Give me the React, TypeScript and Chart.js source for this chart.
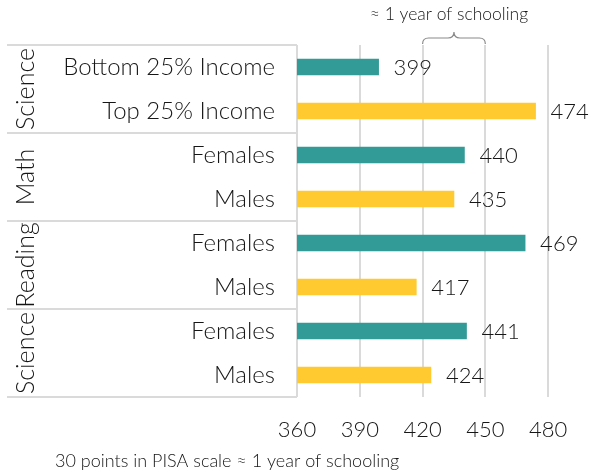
import React, { useEffect, useRef } from 'react';
import { Chart, registerables } from 'chart.js';

Chart.register(...registerables);

const categories = ['Bottom 25% Income', 'Top 25% Income', 'Females', 'Males', 'Females', 'Males', 'Females', 'Males'];
const scores = [399, 474, 440, 435, 469, 417, 441, 424];
const groupNames = ['Science', 'Math', 'Reading', 'Science'];
const groupSizes = [2, 2, 2, 2];
const xTickValues = [360, 390, 420, 450, 480];
const xMin = 360;
const xMax = 500;
const braceFrom = 420;
const braceTo = 450;
const annotationText = '≈ 1 year of schooling';
const footnoteText = '30 points in PISA scale ≈ 1 year of schooling';

const TEAL = '#339b97';
const YELLOW = '#ffca30';
const TEXT = '#161616';
const LINE = '#dadada';
const FONT = 'Lato, "Open Sans", sans-serif';

const barColors = scores.map((_, i) => (i % 2 === 0 ? TEAL : YELLOW));

const decorPlugin = {
  id: 'decor',
  beforeDatasetsDraw(chart: any) {
    const { ctx, chartArea: a, scales } = chart;
    const y = scales.y;
    const band = y.getPixelForValue(1) - y.getPixelForValue(0);
    ctx.save();
    ctx.strokeStyle = LINE;
    ctx.lineWidth = 2;
    const bounds: number[] = [y.getPixelForValue(0) - band / 2];
    let idx = 0;
    groupSizes.forEach((s) => {
      idx += s;
      bounds.push(y.getPixelForValue(idx - 1) + band / 2);
    });
    bounds.forEach((b) => {
      ctx.beginPath();
      ctx.moveTo(7, b);
      ctx.lineTo(a.left, b);
      ctx.stroke();
    });
    ctx.beginPath();
    ctx.moveTo(a.left, a.top);
    ctx.lineTo(a.left, a.bottom);
    ctx.stroke();
    ctx.restore();
  },
  afterDatasetsDraw(chart: any) {
    const { ctx, chartArea: a, scales } = chart;
    const x = scales.x;
    const y = scales.y;
    const band = y.getPixelForValue(1) - y.getPixelForValue(0);
    ctx.save();
    ctx.fillStyle = TEXT;
    // value labels
    ctx.font = `300 22px ${FONT}`;
    ctx.textAlign = 'left';
    ctx.textBaseline = 'middle';
    scores.forEach((v, i) => {
      ctx.fillText(String(v), x.getPixelForValue(v) + 15, y.getPixelForValue(i) + 1);
    });
    // group labels
    ctx.font = `300 25px ${FONT}`;
    ctx.textAlign = 'center';
    let idx = 0;
    groupNames.forEach((g, gi) => {
      const start = y.getPixelForValue(idx) - band / 2;
      idx += groupSizes[gi];
      const end = y.getPixelForValue(idx - 1) + band / 2;
      ctx.save();
      ctx.translate(26, (start + end) / 2);
      ctx.rotate(-Math.PI / 2);
      ctx.fillText(g, 0, 0);
      ctx.restore();
    });
    // brace
    const x1 = x.getPixelForValue(braceFrom);
    const x2 = x.getPixelForValue(braceTo);
    const mid = (x1 + x2) / 2;
    ctx.strokeStyle = '#8a8a8a';
    ctx.lineWidth = 1.2;
    ctx.beginPath();
    ctx.moveTo(x1, a.top - 1);
    ctx.quadraticCurveTo(x1, 38, x1 + 6, 38);
    ctx.lineTo(mid - 6, 38);
    ctx.quadraticCurveTo(mid, 38, mid, 32);
    ctx.quadraticCurveTo(mid, 38, mid + 6, 38);
    ctx.lineTo(x2 - 6, 38);
    ctx.quadraticCurveTo(x2, 38, x2, a.top - 1);
    ctx.stroke();
    // annotation
    ctx.font = `300 17.5px ${FONT}`;
    ctx.textAlign = 'center';
    ctx.fillText(annotationText, mid - 5, 14);
    // footnote
    ctx.font = `300 18px ${FONT}`;
    ctx.textAlign = 'left';
    ctx.fillText(footnoteText, 55, 461);
    ctx.restore();
  },
};

export default function App() {
  const ref = useRef<HTMLCanvasElement | null>(null);
  useEffect(() => {
    if (!ref.current) return;
    const chart = new Chart(ref.current, {
      type: 'bar',
      data: {
        labels: categories,
        datasets: [
          {
            data: scores,
            backgroundColor: barColors,
            borderWidth: 0,
            barThickness: 16,
          },
        ],
      },
      options: {
        indexAxis: 'y',
        animation: false,
        responsive: true,
        maintainAspectRatio: false,
        layout: { padding: { top: 45, right: 13, left: 0, bottom: 0 } },
        plugins: {
          legend: { display: false },
          tooltip: { enabled: false },
        },
        scales: {
          x: {
            min: xMin,
            max: xMax,
            afterBuildTicks: (scale: any) => {
              scale.ticks = xTickValues.map((v) => ({ value: v }));
            },
            afterFit: (scale: any) => {
              scale.height = 78;
            },
            grid: { color: LINE, lineWidth: 2, drawTicks: false },
            border: { display: false },
            ticks: {
              color: TEXT,
              font: { family: FONT, size: 22, weight: '300' },
              padding: 20,
              autoSkip: false,
              maxRotation: 0,
            },
          },
          y: {
            afterFit: (scale: any) => {
              scale.width = 297;
            },
            grid: { display: false, drawTicks: false },
            border: { display: false },
            ticks: {
              color: TEXT,
              font: { family: FONT, size: 24, weight: '300' },
              padding: 22,
              autoSkip: false,
            },
          },
        },
      },
      plugins: [decorPlugin],
    });
    return () => chart.destroy();
  }, []);
  return (
    <div style={{ position: 'absolute', left: 0, top: 0, width: 603, height: 475 }}>
      <canvas ref={ref} />
    </div>
  );
}
